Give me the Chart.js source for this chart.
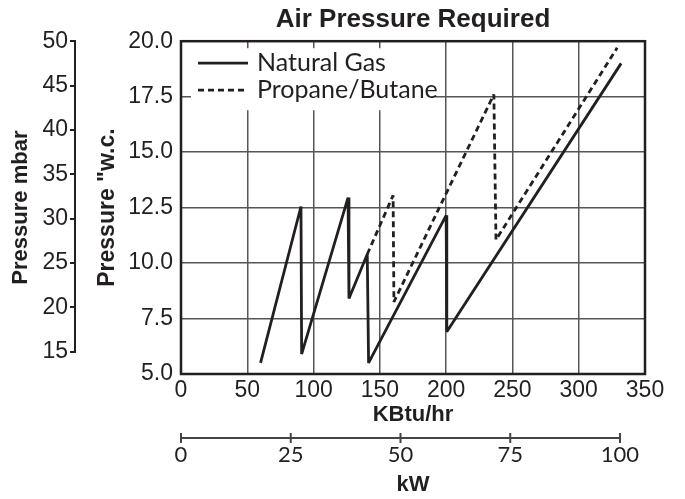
<!DOCTYPE html>
<html>
<head>
<meta charset="utf-8">
<script src="https://cdn.jsdelivr.net/npm/chart.js@4"></script>
<style>
  body { margin: 0; background: #fff; }
  canvas { display: block; }
</style>
</head>
<body>
<canvas id="pressureChart" width="685" height="499"></canvas>
<script>
// Natural Gas: input (KBtu/hr) vs air pressure ("w.c.)
const ngKbtu     = [60, 90.5, 91, 126, 126.7, 140.5, 141.5, 200, 200.5, 332];
const ngPressure = [5.5, 12.55, 5.9, 12.95, 8.4, 10.4, 5.5, 12.15, 6.9, 19.0];
// Propane/Butane
const lpKbtu     = [140.5, 160, 160.6, 236, 237.6, 329];
const lpPressure = [10.4, 13.05, 8.25, 17.6, 11.05, 19.7];

// tick labels
const kbtuTicks = [0, 50, 100, 150, 200, 250, 300, 350];
const wcTicks   = [5, 7.5, 10, 12.5, 15, 17.5, 20];
const mbarTicks = [15, 20, 25, 30, 35, 40, 45, 50];
const kwTicks   = [0, 25, 50, 75, 100];

const ink = "#231f20";
const gridGrey = "#555";

const toPoints = (xs, ys) => xs.map((x, i) => ({ x: x, y: ys[i] }));
const setTicks = vals => scale => { scale.ticks = vals.map(v => ({ value: v })); };

// frame, extra axis lines and the legend inside the plot
const chartDecor = {
    id: "chartDecor",
    beforeDatasetsDraw(chart) {
        const { ctx, chartArea: a, scales } = chart;
        ctx.save();
        ctx.strokeStyle = ink;
        ctx.lineWidth = 2.5;
        ctx.strokeRect(a.left, a.top, a.right - a.left, a.bottom - a.top);

        // mbar axis line only between first and last tick
        const mb = scales.mbar;
        ctx.lineWidth = 2;
        ctx.beginPath();
        ctx.moveTo(mb.right - 1, mb.getPixelForValue(mbarTicks[mbarTicks.length - 1]));
        ctx.lineTo(mb.right - 1, mb.getPixelForValue(mbarTicks[0]));
        ctx.stroke();

        // kW axis
        const kw = scales.kw;
        const ly = kw.top + 10;
        ctx.strokeStyle = "#444";
        ctx.beginPath();
        ctx.moveTo(kw.getPixelForValue(kwTicks[0]), ly);
        ctx.lineTo(kw.getPixelForValue(kwTicks[kwTicks.length - 1]), ly);
        kwTicks.forEach(v => {
            const px = kw.getPixelForValue(v);
            ctx.moveTo(px, ly - 5);
            ctx.lineTo(px, ly + 5);
        });
        ctx.stroke();

        // legend
        ctx.fillStyle = "#fff";
        ctx.fillRect(a.left + 10, a.top + 7, 244, 62);
        chart.data.datasets.forEach((ds, i) => {
            const y = a.top + 22 + i * 27;
            ctx.strokeStyle = ds.borderColor;
            ctx.lineWidth = ds.borderWidth;
            ctx.setLineDash(ds.borderDash || []);
            ctx.beginPath();
            ctx.moveTo(a.left + 17, y);
            ctx.lineTo(a.left + 67, y);
            ctx.stroke();
            ctx.setLineDash([]);
            ctx.fillStyle = ink;
            ctx.font = "25px Lato";
            ctx.textBaseline = "middle";
            ctx.textAlign = "left";
            ctx.fillText(ds.label, a.left + 76, y);
        });
        ctx.restore();
    }
};

Chart.defaults.font.family = "'Liberation Sans', Arial, sans-serif";
Chart.defaults.color = ink;

new Chart(document.getElementById("pressureChart"), {
    type: "line",
    data: {
        datasets: [
            {
                label: "Natural Gas",
                data: toPoints(ngKbtu, ngPressure),
                borderColor: ink,
                borderWidth: 2.8,
                borderJoinStyle: "bevel",
                pointRadius: 0,
                tension: 0
            },
            {
                label: "Propane/Butane",
                data: toPoints(lpKbtu, lpPressure),
                borderColor: ink,
                borderWidth: 2.8,
                borderDash: [6, 4],
                borderJoinStyle: "bevel",
                pointRadius: 0,
                tension: 0
            }
        ]
    },
    options: {
        responsive: false,
        animation: false,
        layout: { padding: { left: 0, right: 40, top: 0, bottom: 0 } },
        plugins: {
            legend: { display: false },
            tooltip: { enabled: false },
            title: {
                display: true,
                text: "Air Pressure Required",
                fullSize: false,
                color: ink,
                font: { size: 26, weight: "bold" },
                padding: { top: 4, bottom: 6 }
            }
        },
        scales: {
            x: {
                type: "linear",
                position: "bottom",
                weight: 0,
                min: 0,
                max: 350,
                afterBuildTicks: setTicks(kbtuTicks),
                afterFit: s => { s.height = 54; },
                grid: { color: gridGrey, lineWidth: 1.5, drawTicks: false },
                border: { display: false },
                ticks: { font: { size: 23 }, padding: 3, maxRotation: 0 },
                title: {
                    display: true, text: "KBtu/hr",
                    font: { size: 22, weight: "bold" },
                    padding: { top: 0, bottom: 0 }
                }
            },
            kw: {
                type: "linear",
                position: "bottom",
                weight: 1,
                min: 0,
                max: 105.7,
                afterBuildTicks: setTicks(kwTicks),
                afterFit: s => { s.height = 71; },
                grid: { display: false, drawTicks: false },
                border: { display: false },
                ticks: { font: { family: "Lato", size: 22 }, padding: 14, maxRotation: 0 },
                title: {
                    display: true, text: "kW",
                    font: { size: 22, weight: "bold" },
                    padding: { top: 3, bottom: 1 }
                }
            },
            y: {
                type: "linear",
                position: "left",
                weight: 0,
                min: 5,
                max: 20,
                afterBuildTicks: setTicks(wcTicks),
                afterFit: s => { s.width = 105; },
                grid: { color: gridGrey, lineWidth: 1.5, drawTicks: false },
                border: { display: false },
                ticks: { font: { size: 23 }, padding: 8, callback: v => v.toFixed(1) },
                title: {
                    display: true, text: 'Pressure "w.c.',
                    font: { size: 23, weight: "bold" },
                    padding: { top: 18, bottom: 0 }
                }
            },
            mbar: {
                type: "linear",
                position: "left",
                weight: 1,
                min: 12.5,
                max: 50,
                afterBuildTicks: setTicks(mbarTicks),
                afterFit: s => { s.width = 76; },
                grid: { drawOnChartArea: false, drawTicks: true, tickLength: 6, color: ink, lineWidth: 2 },
                border: { display: false },
                ticks: { font: { size: 23 }, padding: 2 },
                title: {
                    display: true, text: "Pressure mbar",
                    font: { size: 22, weight: "bold" },
                    padding: { top: 8, bottom: 0 }
                }
            }
        }
    },
    plugins: [chartDecor]
});
</script>
</body>
</html>
